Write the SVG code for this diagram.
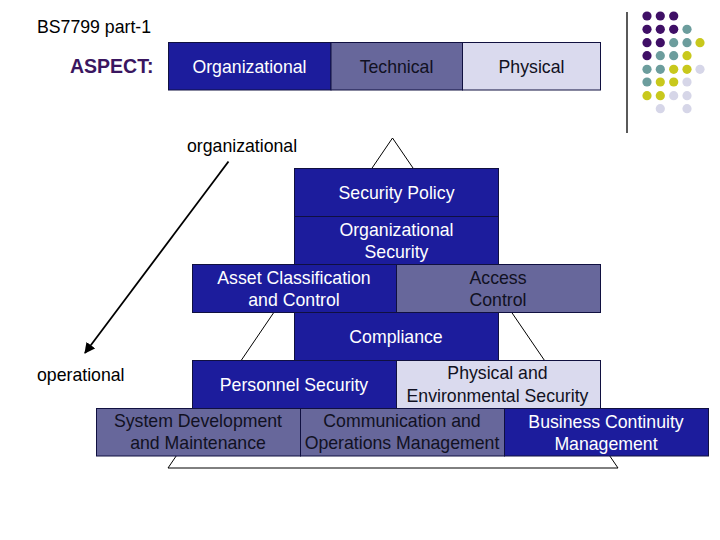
<svg xmlns="http://www.w3.org/2000/svg" width="720" height="540" viewBox="0 0 720 540">
<style>
text{font-family:"Liberation Sans",Arial,sans-serif;font-size:17.7px;text-anchor:middle}
.lbl{text-anchor:start;fill:#000}
.dk{fill:#1c1c9c;stroke:#101040;stroke-width:1}
.sl{fill:#67679b;stroke:#101040;stroke-width:1}
.lt{fill:#dadaee;stroke:#101040;stroke-width:1}
.w{fill:#ffffff}
.b{fill:#111122}
.p{fill:#3f0f66}.t{fill:#6c9d9d}.y{fill:#c8c81c}.v{fill:#d6d6e8}
</style>
<defs>
<marker id="ah" viewBox="0 0 10 10" refX="9" refY="5" markerWidth="6" markerHeight="6" orient="auto">
<path d="M0,0 L10,5 L0,10 z" fill="#000"/>
</marker>
</defs>
<rect width="720" height="540" fill="#fff"/>
<!-- decoration -->
<g id="decor">
<line x1="627" y1="12" x2="627" y2="133" stroke="#000" stroke-width="1.3"/>
<circle class="p" cx="647" cy="16" r="4.6"/><circle class="p" cx="660.3" cy="16" r="4.6"/><circle class="p" cx="673.7" cy="16" r="4.6"/>
<circle class="p" cx="647" cy="29.3" r="4.6"/><circle class="p" cx="660.3" cy="29.3" r="4.6"/><circle class="p" cx="673.7" cy="29.3" r="4.6"/><circle class="t" cx="687" cy="29.3" r="4.6"/>
<circle class="p" cx="647" cy="42.7" r="4.6"/><circle class="p" cx="660.3" cy="42.7" r="4.6"/><circle class="t" cx="673.7" cy="42.7" r="4.6"/><circle class="t" cx="687" cy="42.7" r="4.6"/><circle class="y" cx="700" cy="42.7" r="4.6"/>
<circle class="p" cx="647" cy="55.7" r="4.6"/><circle class="t" cx="660.3" cy="55.7" r="4.6"/><circle class="t" cx="673.7" cy="55.7" r="4.6"/><circle class="y" cx="687" cy="55.7" r="4.6"/>
<circle class="t" cx="647" cy="69.3" r="4.6"/><circle class="t" cx="660.3" cy="69.3" r="4.6"/><circle class="y" cx="673.7" cy="69.3" r="4.6"/><circle class="y" cx="687" cy="69.3" r="4.6"/><circle class="v" cx="700" cy="69.3" r="4.6"/>
<circle class="t" cx="647" cy="82" r="4.6"/><circle class="y" cx="660.3" cy="82" r="4.6"/><circle class="y" cx="673.7" cy="82" r="4.6"/><circle class="v" cx="687" cy="82" r="4.6"/>
<circle class="y" cx="647" cy="95.7" r="4.6"/><circle class="y" cx="660.3" cy="95.7" r="4.6"/><circle class="v" cx="673.7" cy="95.7" r="4.6"/><circle class="v" cx="687" cy="95.7" r="4.6"/>
<circle class="v" cx="660.3" cy="108.7" r="4.6"/><circle class="v" cx="687" cy="108.7" r="4.6"/>
</g>
<g id="title"><text class="lbl" x="37" y="33">BS7799 part-1</text></g>
<g id="aspect-label"><text x="70" y="73" style="text-anchor:start;font-weight:bold;font-size:19.5px;fill:#3a1660">ASPECT:</text></g>
<g id="aspect-organizational"><rect class="dk" x="168.5" y="42.5" width="162.5" height="47.5"/><text class="w" x="249.5" y="73">Organizational</text></g>
<g id="aspect-technical"><rect class="sl" x="331" y="42.5" width="131.5" height="47.5"/><text class="b" x="396.5" y="73">Technical</text></g>
<g id="aspect-physical"><rect class="lt" x="462.5" y="42.5" width="138" height="47.5"/><text class="b" x="531.5" y="73">Physical</text></g>
<g id="pyramid"><polygon points="392.5,138 168,468 618,468" fill="#fff" stroke="#000" stroke-width="1"/></g>
<g id="label-organizational"><text class="lbl" x="187" y="152">organizational</text></g>
<g id="label-operational"><text class="lbl" x="37" y="381">operational</text></g>
<g id="connectors">
<line x1="228.5" y1="161.5" x2="85" y2="353" stroke="#000" stroke-width="1.8" marker-end="url(#ah)"/>
</g>
<g id="security-policy"><rect class="dk" x="294.5" y="168.5" width="204" height="48"/><text class="w" x="396.5" y="198.5">Security Policy</text></g>
<g id="organizational-security"><rect class="dk" x="294.5" y="216.5" width="204" height="48"/><text class="w" x="396.5" y="235.5">Organizational</text><text class="w" x="396.5" y="258">Security</text></g>
<g id="asset-classification"><rect class="dk" x="192.5" y="264.5" width="204" height="48"/><text class="w" x="294" y="283.5">Asset Classification</text><text class="w" x="294" y="305.5">and Control</text></g>
<g id="access-control"><rect class="sl" x="396.5" y="264.5" width="204" height="48"/><text class="b" x="498" y="283.5">Access</text><text class="b" x="498" y="305.5">Control</text></g>
<g id="compliance"><rect class="dk" x="294.5" y="312.5" width="204" height="48"/><text class="w" x="396" y="342.5">Compliance</text></g>
<g id="personnel-security"><rect class="dk" x="192.5" y="360.5" width="204" height="48"/><text class="w" x="294" y="391">Personnel Security</text></g>
<g id="physical-environmental"><rect class="lt" x="396.5" y="360.5" width="204" height="48"/><text class="b" x="497.5" y="378.5">Physical and</text><text class="b" x="497.5" y="402">Environmental Security</text></g>
<g id="system-development"><rect class="sl" x="96.5" y="408.5" width="204" height="47.5"/><text class="b" x="198" y="427">System Development</text><text class="b" x="198" y="449">and Maintenance</text></g>
<g id="communication-operations"><rect class="sl" x="300.5" y="408.5" width="204" height="47.5"/><text class="b" x="402" y="427">Communication and</text><text class="b" x="402" y="449">Operations Management</text></g>
<g id="business-continuity"><rect class="dk" x="504.5" y="408.5" width="204" height="47.5"/><text class="w" x="606" y="427.5">Business Continuity</text><text class="w" x="606" y="450">Management</text></g>
</svg>
